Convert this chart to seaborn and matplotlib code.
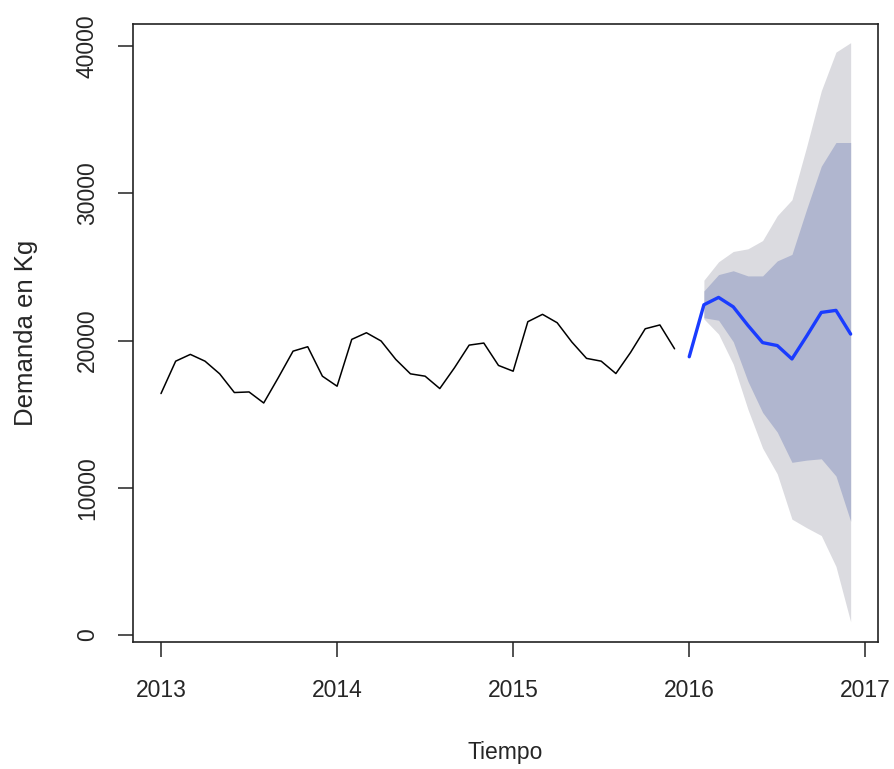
import numpy as np
import pandas as pd
import matplotlib
matplotlib.use("Agg")
import matplotlib.pyplot as plt
import seaborn as sns

# observed monthly demand, Jan 2013 - Dec 2015
demanda = [16400, 18600, 19060, 18600, 17740, 16470, 16510, 15760, 17490, 19280, 19580, 17580,
           16900, 20080, 20530, 19970, 18720, 17740, 17580, 16740, 18150, 19690, 19830, 18310,
           17920, 21280, 21780, 21210, 19900, 18790, 18600, 17760, 19190, 20800, 21060, 19440]

# point forecast, Jan 2016 - Dec 2016
pronostico = [18900, 22430, 22930, 22290, 21030, 19860, 19660, 18750, 20300, 21910, 22050, 20440]

# prediction intervals, Feb 2016 - Dec 2016
sup95 = [24100, 25350, 26050, 26230, 26790, 28480, 29560, 33160, 36960, 39590, 40230]
sup80 = [23370, 24480, 24740, 24390, 24390, 25410, 25850, 28920, 31840, 33450, 33450]
inf80 = [21550, 21380, 19920, 17230, 15120, 13780, 11730, 11880, 11970, 10800, 7730]
inf95 = [21470, 20440, 18400, 15330, 12700, 10940, 7870, 7290, 6760, 4660, 900]

t_obs = 2013 + np.arange(len(demanda)) / 12
t_fc = 2016 + np.arange(len(pronostico)) / 12
t_int = t_fc[1:]

hist_df = pd.DataFrame({'Tiempo': t_obs, 'Demanda': demanda})
fc_df = pd.DataFrame({'Tiempo': t_fc, 'Demanda': pronostico})

sns.set_style("white")
plt.rcParams['font.family'] = ['Liberation Sans', 'DejaVu Sans']
narrow = ['Liberation Sans Narrow', 'Liberation Sans', 'DejaVu Sans']

fig = plt.figure(figsize=(8.95, 7.69), dpi=100)
ax = fig.add_axes([0.1486, 0.1651, 0.8324, 0.8036])

ax.fill_between(t_int, inf95, sup95, color='#dbdbe0', lw=0)
ax.fill_between(t_int, inf80, sup80, color='#b0b6cf', lw=0)
sns.lineplot(data=hist_df, x='Tiempo', y='Demanda', color='black', lw=1.1, ax=ax)
sns.lineplot(data=fc_df, x='Tiempo', y='Demanda', color='#1a3cff', lw=2.4, ax=ax)

ax.set_xlim(2012.841, 2017.072)
ax.set_ylim(-475, 41494)
ax.set_xticks([2013, 2014, 2015, 2016, 2017])
ax.set_yticks([0, 10000, 20000, 30000, 40000])
ax.set_xticklabels(['2013', '2014', '2015', '2016', '2017'], family=narrow, fontsize=16.5)
ax.set_yticklabels(['0', '10000', '20000', '30000', '40000'], rotation=90, va='center', fontsize=16.5)

for s in ax.spines.values():
    s.set_visible(True)
    s.set_color('#222222')
    s.set_linewidth(1.2)

ax.tick_params(axis='both', direction='out', length=10.5, width=1.1, color='#222222',
               left=True, bottom=True)
ax.tick_params(axis='x', pad=16)
ax.tick_params(axis='y', pad=14)

ax.set_xlabel('Tiempo', fontsize=16.5, family=narrow, labelpad=28)
ax.set_ylabel('Demanda en Kg', fontsize=18.5, labelpad=27)

fig.savefig('out.png', dpi=100)
